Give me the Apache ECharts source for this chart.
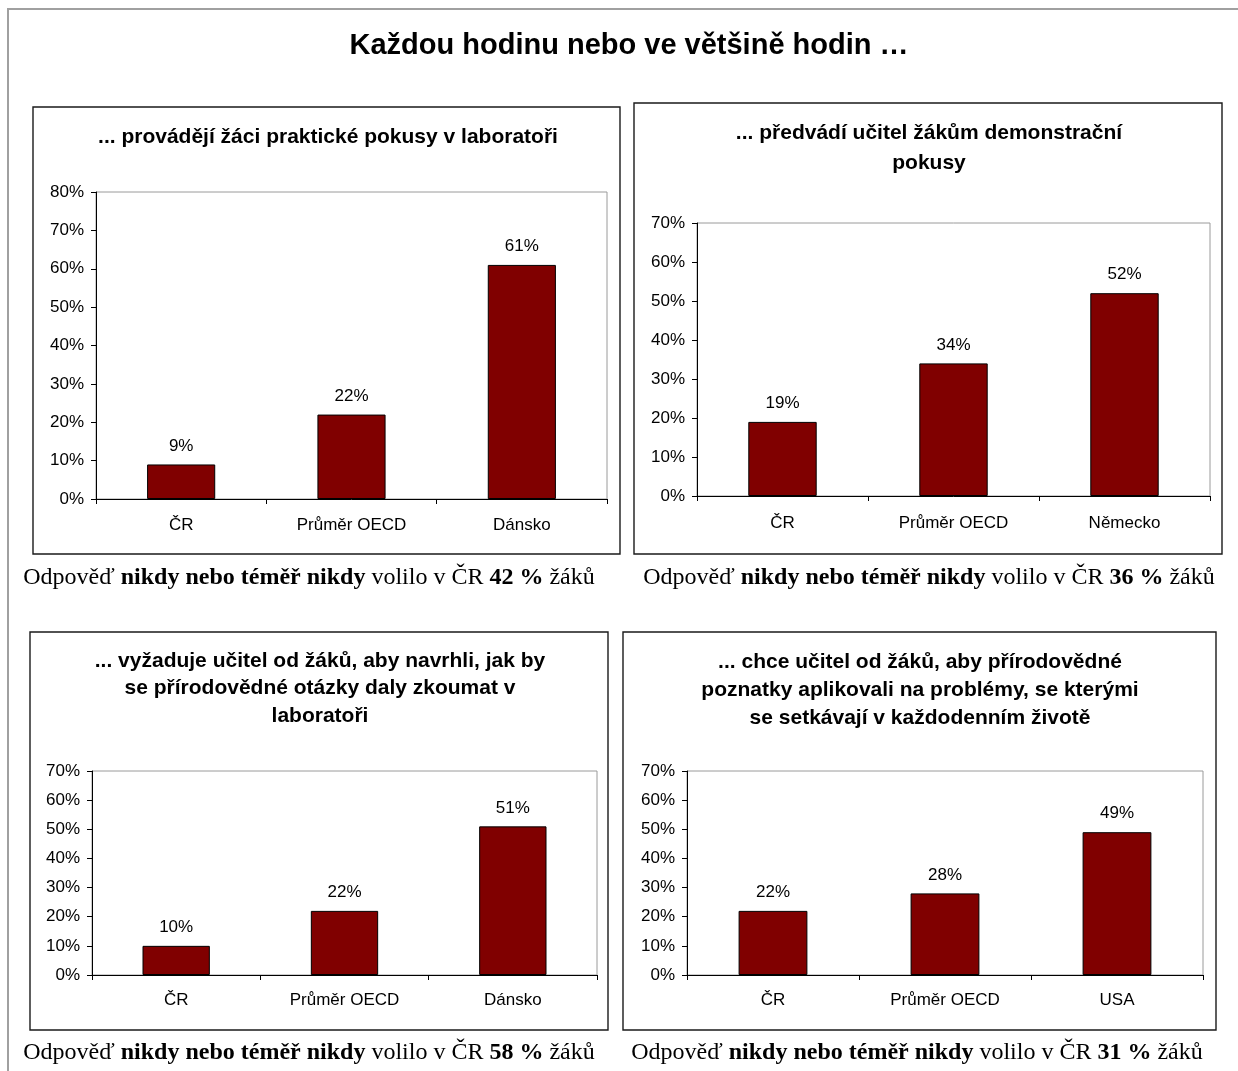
<!DOCTYPE html>
<html>
<head>
<meta charset="utf-8">
<style>
  html, body { margin: 0; padding: 0; background: #fff; }
  #chart { width: 1238px; height: 1071px; }
</style>
<script src="https://cdn.jsdelivr.net/npm/echarts@6/dist/echarts.min.js"></script>
</head>
<body>
<div id="chart"></div>
<script>
// Categories for each panel
const categories1 = ['ČR', 'Průměr OECD', 'Dánsko'];
const categories2 = ['ČR', 'Průměr OECD', 'Německo'];
const categories3 = ['ČR', 'Průměr OECD', 'Dánsko'];
const categories4 = ['ČR', 'Průměr OECD', 'USA'];

// Share of students (%) answering "every lesson or most lessons"
const values1 = [9, 22, 61];
const values2 = [19, 34, 52];
const values3 = [10, 22, 51];
const values4 = [22, 28, 49];

// Axis maxima
const axisMax = [80, 70, 70, 70];

// Share answering "never or hardly ever" in ČR
const neverCR = [42, 36, 58, 31];

const mainTitle = 'Každou hodinu nebo ve většině hodin …';
const panelTitles = [
  '... provádějí žáci praktické pokusy v laboratoři',
  '... předvádí učitel žákům demonstrační\npokusy',
  '... vyžaduje učitel od žáků, aby navrhli, jak by\nse přírodovědné otázky daly zkoumat v\nlaboratoři',
  '... chce učitel od žáků, aby přírodovědné\npoznatky aplikovali na problémy, se kterými\nse setkávají v každodenním životě'
];

const SANS = '"Liberation Sans", Arial, sans-serif';
const SERIF = '"Liberation Serif", "Times New Roman", serif';
const BAR = '#800000';

const chart = echarts.init(document.getElementById('chart'), null, { renderer: 'canvas' });

// Layout of the four panels
const grids = [
  { left: 96, top: 192, width: 511, height: 307 },
  { left: 697, top: 223, width: 513, height: 273 },
  { left: 92, top: 771, width: 505, height: 204 },
  { left: 687, top: 771, width: 516, height: 204 }
];
const boxes = [
  { x: 33, y: 107, w: 587, h: 447 },
  { x: 634, y: 103, w: 588, h: 451 },
  { x: 30, y: 632, w: 578, h: 398 },
  { x: 623, y: 632, w: 593, h: 398 }
];
const titlePos = [
  { x: 328, top: 123, lh: 28 },
  { x: 929, top: 118, lh: 30 },
  { x: 320, top: 647, lh: 27.5 },
  { x: 920, top: 648, lh: 28 }
];
const footPos = [
  { x: 309, top: 565 },
  { x: 929, top: 565 },
  { x: 309, top: 1040 },
  { x: 917, top: 1040 }
];
const xLabelMargin = [18, 19, 17, 17];

const cats = [categories1, categories2, categories3, categories4];
const vals = [values1, values2, values3, values4];

const titles = [{
  text: mainTitle,
  left: 629, top: 46, padding: 0,
  textAlign: 'center', textVerticalAlign: 'middle',
  textStyle: { fontFamily: SANS, fontSize: 29, fontWeight: 'bold', color: '#000' }
}];
panelTitles.forEach((t, i) => {
  titles.push({
    text: t,
    left: titlePos[i].x, top: titlePos[i].top, padding: 0,
    textAlign: 'center', textVerticalAlign: 'top',
    textStyle: { fontFamily: SANS, fontSize: 21, fontWeight: 'bold', color: '#000', lineHeight: titlePos[i].lh }
  });
});
neverCR.forEach((v, i) => {
  titles.push({
    text: 'Odpověď {b|nikdy nebo téměř nikdy} volilo v ČR {b|' + v + ' %} žáků',
    left: footPos[i].x, top: footPos[i].top, padding: 0,
    textAlign: 'center', textVerticalAlign: 'top',
    textStyle: {
      fontFamily: SERIF, fontSize: 24, fontWeight: 'normal', color: '#000', lineHeight: 26,
      rich: { b: { fontFamily: SERIF, fontSize: 24, fontWeight: 'bold', color: '#000', lineHeight: 26 } }
    }
  });
});

const graphics = [
  // outer frame (left and top edges visible)
  { type: 'rect', shape: { x: 8, y: 9, width: 1240, height: 1100 },
    style: { fill: 'none', stroke: '#a0a0a0', lineWidth: 2 }, z: 0 }
];
boxes.forEach(b => {
  graphics.push({ type: 'rect', shape: { x: b.x, y: b.y, width: b.w, height: b.h },
    style: { fill: 'none', stroke: '#1a1a1a', lineWidth: 1.4 }, z: 0 });
});

const option = {
  animation: false,
  backgroundColor: '#fff',
  title: titles,
  graphic: graphics,
  grid: grids.map(g => Object.assign({
    show: true, borderColor: '#9a9a9a', borderWidth: 1, backgroundColor: 'transparent', containLabel: false
  }, g)),
  xAxis: cats.map((c, i) => ({
    type: 'category', gridIndex: i, data: c,
    axisLine: { show: true, lineStyle: { color: '#000', width: 1 } },
    axisTick: { show: true, length: 5, lineStyle: { color: '#000' } },
    axisLabel: { margin: xLabelMargin[i], fontFamily: SANS, fontSize: 17, color: '#000' },
    splitLine: { show: false }
  })),
  yAxis: axisMax.map((m, i) => ({
    type: 'value', gridIndex: i, min: 0, max: m, interval: 10,
    axisLine: { show: true, lineStyle: { color: '#000', width: 1 } },
    axisTick: { show: true, length: 5, lineStyle: { color: '#000' } },
    axisLabel: { margin: 12, fontFamily: SANS, fontSize: 17, color: '#000', formatter: '{value}%' },
    splitLine: { show: false }
  })),
  series: vals.map((v, i) => ({
    type: 'bar', xAxisIndex: i, yAxisIndex: i, data: v,
    barWidth: '40%',
    itemStyle: { color: BAR, borderColor: '#000', borderWidth: 1 },
    label: { show: true, position: 'top', distance: 10, formatter: '{c}%',
      fontFamily: SANS, fontSize: 17, color: '#000' }
  }))
};

chart.setOption(option);
</script>
</body>
</html>
